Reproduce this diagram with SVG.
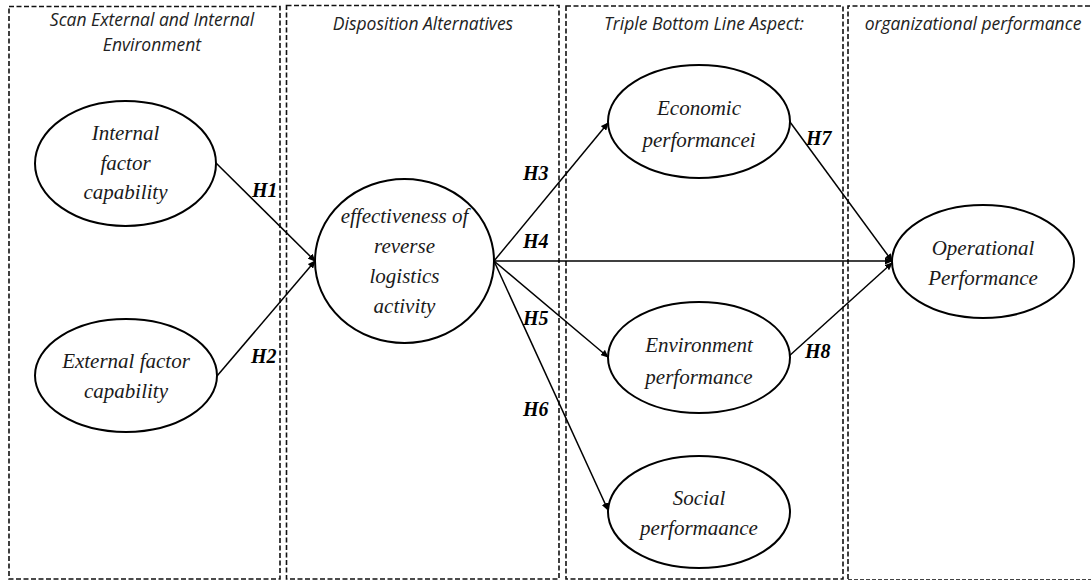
<svg xmlns="http://www.w3.org/2000/svg" width="1091" height="582" viewBox="0 0 1091 582">
<defs>
<style>
.box{fill:none;stroke:#111;stroke-width:1.6;stroke-dasharray:5 2.5}
.box4b{fill:none;stroke:#444;stroke-width:1;stroke-dasharray:4 2}
.hdr{font-family:"Open Sans","Liberation Sans",sans-serif;font-style:italic;font-size:17.5px;fill:#222;text-anchor:middle}
.node ellipse{fill:#fff;stroke:#000;stroke-width:2}
.lbl{font-family:"Liberation Serif","Times New Roman",serif;font-style:italic;font-size:21px;fill:#1a1a1a;text-anchor:middle}
.hyp{font-family:"Liberation Serif","Times New Roman",serif;font-style:italic;font-weight:bold;font-size:20px;fill:#000}
.con line{stroke:#000;stroke-width:1.5}
</style>
<marker id="arr" markerUnits="userSpaceOnUse" markerWidth="8" markerHeight="7" refX="7" refY="3.5" orient="auto">
<path d="M0,0 L8,3.5 L0,7 z" fill="#000"/>
</marker>
</defs>
<rect width="1091" height="582" fill="#fff"/>
<g id="panels">
<rect class="box" x="9" y="6.5" width="271" height="572.5"/>
<rect class="box" x="286.5" y="5.5" width="272.5" height="573.5"/>
<rect class="box" x="566" y="6" width="277" height="573"/>
<path class="box" d="M848,579 V6 H1091"/>
<path class="box4b" d="M848,579.5 H1091"/>
<text class="hdr" x="152" y="26">Scan External and Internal</text>
<text class="hdr" x="152" y="51">Environment</text>
<text class="hdr" x="423" y="30">Disposition Alternatives</text>
<text class="hdr" x="704" y="30">Triple Bottom Line Aspect:</text>
<text class="hdr" x="973" y="30">organizational performance</text>
</g>
<g id="connectors" class="con">
<line x1="216" y1="163" x2="315" y2="261" marker-end="url(#arr)"/>
<line x1="217" y1="376" x2="315" y2="261" marker-end="url(#arr)"/>
<line x1="494" y1="261" x2="608" y2="123" marker-end="url(#arr)"/>
<line x1="494" y1="261" x2="892" y2="261" marker-end="url(#arr)"/>
<line x1="494" y1="261" x2="608" y2="357" marker-end="url(#arr)"/>
<line x1="494" y1="261" x2="608" y2="510" marker-end="url(#arr)"/>
<line x1="790" y1="122" x2="892" y2="261" marker-end="url(#arr)"/>
<line x1="788" y1="357" x2="892" y2="263" marker-end="url(#arr)"/>
<text class="hyp" x="252" y="197">H1</text>
<text class="hyp" x="251" y="363">H2</text>
<text class="hyp" x="523" y="180">H3</text>
<text class="hyp" x="523" y="248">H4</text>
<text class="hyp" x="523" y="325">H5</text>
<text class="hyp" x="523" y="416">H6</text>
<text class="hyp" x="806" y="145">H7</text>
<text class="hyp" x="805" y="358">H8</text>
</g>
<g id="internal" class="node">
<ellipse cx="125.5" cy="163.5" rx="90.5" ry="62.5"/>
<text class="lbl" x="125.5" y="140">Internal</text>
<text class="lbl" x="125.5" y="170">factor</text>
<text class="lbl" x="125.5" y="199">capability</text>
</g>
<g id="external" class="node">
<ellipse cx="126" cy="375.5" rx="91" ry="56.5"/>
<text class="lbl" x="126" y="368">External factor</text>
<text class="lbl" x="126" y="398">capability</text>
</g>
<g id="reverse" class="node">
<ellipse cx="404.5" cy="261" rx="89.5" ry="82"/>
<text class="lbl" x="404.5" y="223">effectiveness of</text>
<text class="lbl" x="404.5" y="253">reverse</text>
<text class="lbl" x="404.5" y="283">logistics</text>
<text class="lbl" x="404.5" y="313">activity</text>
</g>
<g id="economic" class="node">
<ellipse cx="699" cy="121.5" rx="91" ry="56.5"/>
<text class="lbl" x="699" y="115">Economic</text>
<text class="lbl" x="699" y="147">performancei</text>
</g>
<g id="environment" class="node">
<ellipse cx="699" cy="357.5" rx="91" ry="55.5"/>
<text class="lbl" x="699" y="352">Environment</text>
<text class="lbl" x="699" y="384">performance</text>
</g>
<g id="social" class="node">
<ellipse cx="699" cy="512" rx="91" ry="56"/>
<text class="lbl" x="699" y="505">Social</text>
<text class="lbl" x="699" y="535">performaance</text>
</g>
<g id="operational" class="node">
<ellipse cx="983" cy="261.5" rx="91" ry="56.5"/>
<text class="lbl" x="983" y="255">Operational</text>
<text class="lbl" x="983" y="285">Performance</text>
</g>
</svg>
